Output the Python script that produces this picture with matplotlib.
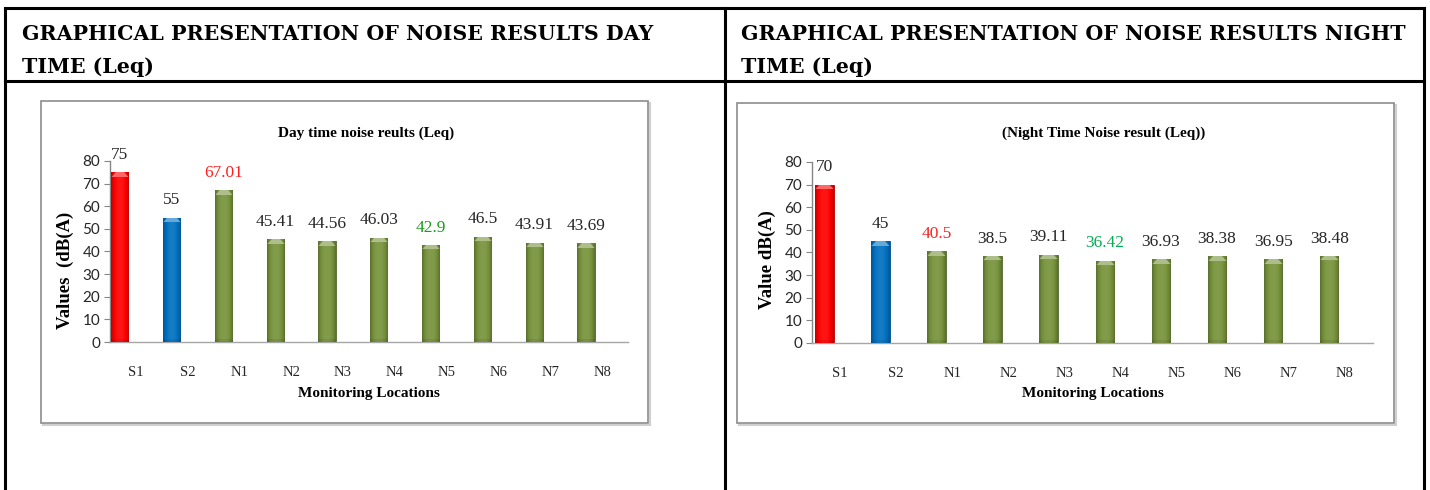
import numpy as np
import matplotlib
matplotlib.use("Agg")
import matplotlib.pyplot as plt
import matplotlib.colors as mcolors
from matplotlib.patches import Rectangle
from matplotlib.lines import Line2D

# ---------------- data ----------------
categories = ['S1', 'S2', 'N1', 'N2', 'N3', 'N4', 'N5', 'N6', 'N7', 'N8']
day_values = [75, 55, 67.01, 45.41, 44.56, 46.03, 42.9, 46.5, 43.91, 43.69]
night_values = [70, 45, 40.5, 38.5, 39.11, 36.42, 36.93, 38.38, 36.95, 38.48]
day_labels = ['75', '55', '67.01', '45.41', '44.56', '46.03', '42.9', '46.5', '43.91', '43.69']
night_labels = ['70', '45', '40.5', '38.5', '39.11', '36.42', '36.93', '38.38', '36.95', '38.48']
bar_colors = ['#FF0000', '#0070C0'] + ['#77933C'] * 8
day_label_colors = ['#262626', '#262626', '#FF2020', '#262626', '#262626',
                    '#262626', '#1E9A1E', '#262626', '#262626', '#262626']
night_label_colors = ['#262626', '#262626', '#FF2020', '#262626', '#262626',
                      '#00B050', '#262626', '#262626', '#262626', '#262626']
yticks = [0, 10, 20, 30, 40, 50, 60, 70, 80]

header_left = ['GRAPHICAL PRESENTATION OF NOISE RESULTS DAY', 'TIME (Leq)']
header_right = ['GRAPHICAL PRESENTATION OF NOISE RESULTS NIGHT', 'TIME (Leq)']
title_left = 'Day time noise reults (Leq)'
title_right = '(Night Time Noise result (Leq))'
ylabel_left = 'Values  (dB(A)'
ylabel_right = 'Value dB(A)'
xlabel = 'Monitoring Locations'

W, H = 1430, 490
fig = plt.figure(figsize=(W / 100, H / 100), dpi=100)
fig.patch.set_facecolor('white')

SERIF = ['Liberation Serif', 'DejaVu Serif']
HEAD = ['DejaVu Serif', 'Liberation Serif']
SANS = ['Lato', 'DejaVu Sans']


def fx(px):
    return px / W


def fy(py):
    return 1 - py / H


# ---------------- table frame ----------------
for (x0, y0, x1, y1) in [(5, 8, 1424, 8), (5, 81, 1424, 81),
                         (5, 8, 5, 490), (725, 8, 725, 490), (1424, 8, 1424, 490)]:
    fig.add_artist(Line2D([fx(x0), fx(x1)], [fy(y0), fy(y1)], color='black', lw=2.2,
                          solid_capstyle='projecting', zorder=0.5))

for x0, lines in [(22, header_left), (741, header_right)]:
    for i, t in enumerate(lines):
        fig.text(fx(x0), fy(34 + 33 * i), t, fontsize=14.8, fontweight='bold',
                 family=HEAD, ha='left', va='center', color='black')

# chart boxes
for (x0, y0, x1, y1) in [(41, 101, 648, 423), (737, 103, 1394, 423)]:
    fig.add_artist(Rectangle((fx(x0) + 0.0014, fy(y1) - 0.004), fx(x1 - x0), fy(y0) - fy(y1),
                             transform=fig.transFigure, facecolor='none',
                             edgecolor='#D0D0D0', lw=1.5, zorder=0.2))
    fig.add_artist(Rectangle((fx(x0), fy(y1)), fx(x1 - x0), fy(y0) - fy(y1),
                             transform=fig.transFigure, facecolor='white',
                             edgecolor='#8C8C8C', lw=1.2, zorder=0.3))


def shade(c, f):
    rgb = np.array(mcolors.to_rgb(c))
    if f >= 0:
        return rgb + (1 - rgb) * f
    return rgb * (1 + f)


def draw_chart(rect, values, labels, lab_colors, title, title_xy, ylabel, ylabel_xy,
               xlabel_xy, offset):
    ax = fig.add_axes(rect)
    ax.set_zorder(5)
    ax.set_facecolor('none')
    x = np.arange(len(values)) + offset
    bw = 0.33
    bars = ax.bar(x, values, width=bw, color=bar_colors, zorder=2,
                  edgecolor=[shade(c, -0.3) for c in bar_colors], linewidth=0.6)
    ax.set_xlim(-0.5, len(values) - 0.5)
    ax.set_ylim(0, 80)
    fig.canvas.draw()
    px_per_unit = (ax.transData.transform((0, 1))[1] - ax.transData.transform((0, 0))[1])
    ncol = 40
    t = np.linspace(-1, 1, ncol)
    for b, c in zip(bars, bar_colors):
        x0, y0, w, h = b.get_x(), b.get_y(), b.get_width(), b.get_height()
        nrow = max(int(round(h * px_per_unit)), 10)
        prof = 0.08 - 0.32 * np.abs(t) ** 2.5
        row = np.array([shade(c, p) for p in prof])
        img = np.tile(row[None, :, :], (nrow, 1, 1))
        bev = 5
        light = shade(c, 0.4)
        for r in range(bev):
            inset = int(round((bev - r) * ncol / 20))
            img[r, inset:ncol - inset] = light
        img[-3:] = img[-3:] * 0.93
        im = ax.imshow(img, extent=[x0, x0 + w, y0, y0 + h], aspect='auto',
                       interpolation='bilinear', zorder=3, origin='upper')
        im.set_clip_path(b)
    ax.set_xlim(-0.5, len(values) - 0.5)
    ax.set_ylim(0, 80)
    ax.set_aspect('auto')

    for xi, v, lab, lc in zip(x, values, labels, lab_colors):
        ax.annotate(lab, (xi, v), xytext=(0, 12.5), textcoords='offset points',
                    ha='center', va='center', fontsize=12.5, family=SERIF,
                    color=lc, annotation_clip=False, zorder=5)

    for s in ['top', 'right']:
        ax.spines[s].set_visible(False)
    ax.spines['left'].set_color('#868686')
    ax.spines['bottom'].set_color('#A6A6A6')
    ax.spines['left'].set_linewidth(1.0)
    ax.spines['bottom'].set_linewidth(1.0)
    ax.set_yticks(yticks)
    ax.set_yticklabels([str(v) for v in yticks], family=SANS, fontsize=11, color='#262626')
    ax.tick_params(axis='y', direction='out', length=4, color='#868686', pad=3)
    ax.set_xticks(np.arange(len(categories)))
    ax.set_xticklabels(categories, family=SERIF, fontsize=10.5, color='#262626')
    ax.tick_params(axis='x', length=0, pad=17)

    fig.text(fx(title_xy[0]), fy(title_xy[1]), title, fontsize=11, fontweight='bold',
             family=SERIF, ha='center', va='center', zorder=6)
    fig.text(fx(ylabel_xy[0]), fy(ylabel_xy[1]), ylabel, fontsize=13.5, fontweight='bold',
             family=SERIF, ha='center', va='center', rotation=90, zorder=6)
    fig.text(fx(xlabel_xy[0]), fy(xlabel_xy[1]), xlabel, fontsize=11, fontweight='bold',
             family=SERIF, ha='center', va='center', zorder=6)
    return ax


draw_chart([fx(110), fy(342), fx(628 - 110), fy(161) - fy(342)], day_values, day_labels,
           day_label_colors, title_left, (366, 133), ylabel_left, (65, 270), (369, 393), -0.31)
draw_chart([fx(812), fy(343), fx(1373 - 812), fy(162) - fy(343)], night_values, night_labels,
           night_label_colors, title_right, (1104, 133), ylabel_right, (767, 260), (1093, 393), -0.28)

fig.savefig('out.png', dpi=100, facecolor='white')
